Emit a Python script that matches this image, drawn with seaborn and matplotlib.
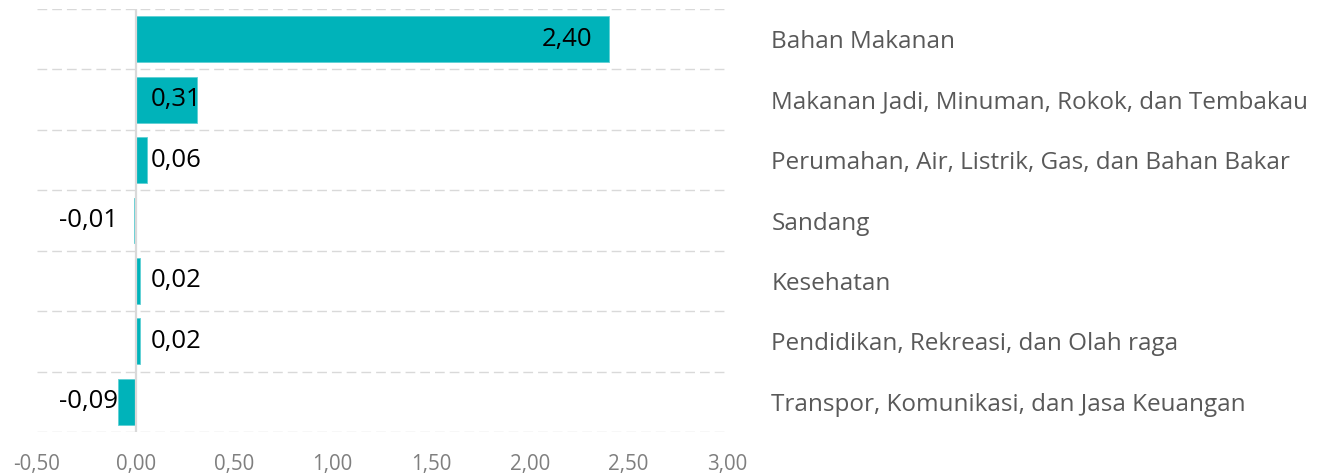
import matplotlib
matplotlib.use("Agg")
import matplotlib.pyplot as plt
import seaborn as sns
import pandas as pd

categories = [
    "Bahan Makanan",
    "Makanan Jadi, Minuman, Rokok, dan Tembakau",
    "Perumahan, Air, Listrik, Gas, dan Bahan Bakar",
    "Sandang",
    "Kesehatan",
    "Pendidikan, Rekreasi, dan Olah raga",
    "Transpor, Komunikasi, dan Jasa Keuangan",
]
values = [2.40, 0.31, 0.06, -0.01, 0.02, 0.02, -0.09]
x_ticks = [-0.5, 0.0, 0.5, 1.0, 1.5, 2.0, 2.5, 3.0]

def fmt(v):
    return f"{v:.2f}".replace(".", ",")

sns.set_theme(style="white")
plt.rcParams["font.family"] = ["Open Sans", "DejaVu Sans"]

df = pd.DataFrame({"cat": categories, "val": values})

W, H = 1329, 476
fig = plt.figure(figsize=(W / 100, H / 100), dpi=100)
ax = fig.add_axes([37 / W, 1 - 432 / H, (727 - 37) / W, (432 - 9) / H])

sns.barplot(data=df, y="cat", x="val", orient="h", color="#00B3BA",
            saturation=1, width=0.76, ax=ax, edgecolor="#5fd0d4", linewidth=0.6)

ax.set_xlim(x_ticks[0], x_ticks[-1])
ax.set_ylim(len(categories) - 0.5, -0.5)
ax.set_xticks(x_ticks)
ax.set_xticklabels([fmt(t) for t in x_ticks], color="#7f7f7f", fontsize=14.8)
ax.tick_params(axis="x", length=0, pad=16)

ax.yaxis.tick_right()
ax.set_yticks(range(len(categories)))
ax.set_yticklabels(categories, color="#595959", fontsize=17.5, ha="left")
ax.tick_params(axis="y", length=0, pad=32)
ax.set_xlabel("")
ax.set_ylabel("")

for s in ax.spines.values():
    s.set_visible(False)

for i in range(len(categories) + 1):
    ax.axhline(i - 0.5, color="#d9d9d9", lw=1.0, ls=(0, (7, 3.6)), zorder=0)
ax.axvline(0, color="#d9d9d9", lw=1.6, zorder=1)

for i, v in enumerate(values):
    if v >= 1:
        ax.text(v - 0.083, i, fmt(v), ha="right", va="center", fontsize=18.5, color="black")
    elif v >= 0:
        ax.text(0.078, i, fmt(v), ha="left", va="center", fontsize=18.5, color="black")
    else:
        ax.text(-0.09, i, fmt(v), ha="right", va="center", fontsize=18.5, color="black")

fig.savefig("out.png", dpi=100)
